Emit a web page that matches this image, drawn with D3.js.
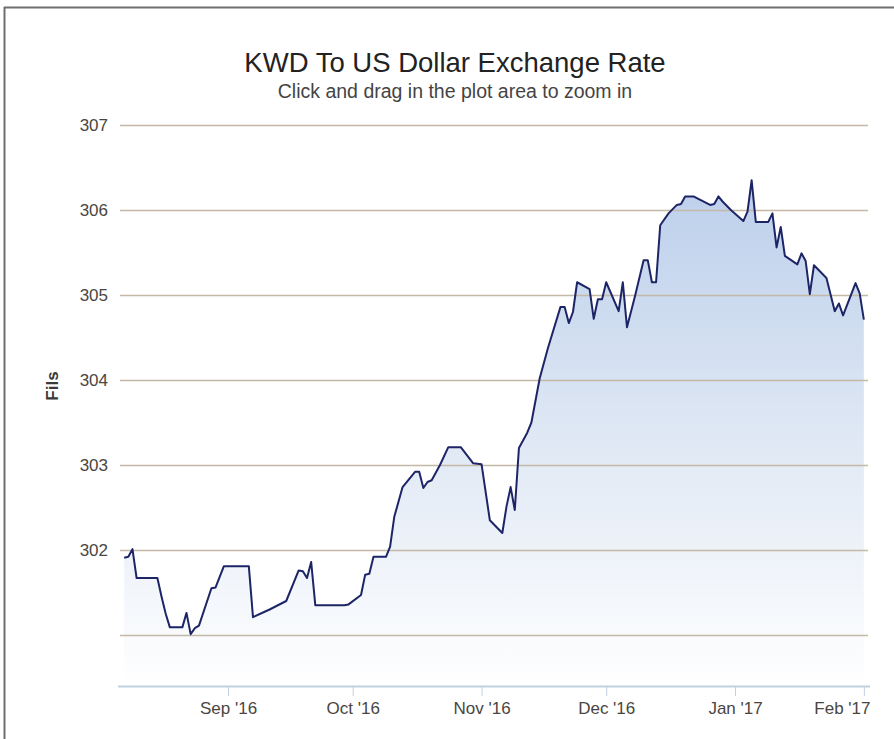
<!DOCTYPE html>
<html>
<head>
<meta charset="utf-8">
<script src="https://cdn.jsdelivr.net/npm/d3@7"></script>
<style>
  body { margin: 0; background: #fff; }
  svg { display: block; font-family: "Liberation Sans", Arial, sans-serif; }
</style>
</head>
<body>
<svg id="chart"></svg>
<script>
// KWD -> USD rate in fils
const dates = [
  "2016-08-07","2016-08-08","2016-08-09","2016-08-10","2016-08-12","2016-08-15","2016-08-16","2016-08-17",
  "2016-08-18","2016-08-21","2016-08-22","2016-08-23","2016-08-24","2016-08-25","2016-08-28","2016-08-29",
  "2016-08-31","2016-09-06","2016-09-07","2016-09-11","2016-09-15","2016-09-18","2016-09-19","2016-09-20",
  "2016-09-21","2016-09-22","2016-09-29","2016-09-30","2016-10-03","2016-10-04","2016-10-05","2016-10-06",
  "2016-10-09","2016-10-10","2016-10-11","2016-10-13","2016-10-16","2016-10-17","2016-10-18","2016-10-19",
  "2016-10-20","2016-10-22","2016-10-24","2016-10-27","2016-10-30","2016-11-01","2016-11-03","2016-11-06",
  "2016-11-07","2016-11-08","2016-11-09","2016-11-10","2016-11-12","2016-11-13","2016-11-15","2016-11-17",
  "2016-11-20","2016-11-21","2016-11-22","2016-11-23","2016-11-24","2016-11-27","2016-11-28","2016-11-29",
  "2016-11-30","2016-12-01","2016-12-04","2016-12-05","2016-12-06","2016-12-08","2016-12-10","2016-12-11",
  "2016-12-12","2016-12-13","2016-12-14","2016-12-16","2016-12-18","2016-12-19","2016-12-20","2016-12-22",
  "2016-12-24","2016-12-26","2016-12-27","2016-12-28","2016-12-29","2016-12-31","2017-01-03","2017-01-04",
  "2017-01-05","2017-01-06","2017-01-09","2017-01-10","2017-01-11","2017-01-12","2017-01-13","2017-01-16",
  "2017-01-17","2017-01-18","2017-01-19","2017-01-20","2017-01-23","2017-01-25","2017-01-26","2017-01-27",
  "2017-01-30","2017-01-31","2017-02-01"
];
const rates = [
  301.91,301.92,302.01,301.67,301.67,301.67,301.45,301.25,
  301.09,301.09,301.26,301.01,301.08,301.11,301.55,301.56,
  301.81,301.81,301.21,301.30,301.40,301.76,301.75,301.67,
  301.86,301.35,301.35,301.36,301.47,301.71,301.72,301.92,
  301.92,302.04,302.39,302.74,302.92,302.92,302.73,302.80,
  302.82,303.00,303.21,303.21,303.02,303.01,302.35,302.20,
  302.51,302.74,302.47,303.20,303.38,303.50,304.02,304.38,
  304.86,304.86,304.67,304.80,305.15,305.07,304.72,304.95,
  304.95,305.15,304.81,305.15,304.62,305.00,305.41,305.41,
  305.15,305.15,305.82,305.96,306.06,306.07,306.16,306.16,
  306.11,306.06,306.07,306.16,306.10,306.00,305.87,305.98,
  306.35,305.86,305.86,305.96,305.56,305.80,305.46,305.36,
  305.49,305.40,305.01,305.35,305.20,304.81,304.90,304.76,
  305.14,305.02,304.71
];
const xDomain = ["2016-08-06", "2017-02-02"];
const yDomain = [300.4, 307];
const gridValues = [301, 302, 303, 304, 305, 306, 307];
const yTickLabels = [302, 303, 304, 305, 306, 307];
const monthTicks = ["2016-09-01","2016-10-01","2016-11-01","2016-12-01","2017-01-01","2017-02-01"];

const title = "KWD To US Dollar Exchange Rate";
const subtitle = "Click and drag in the plot area to zoom in";
const yTitle = "Fils";

const width = 894;
const height = 739;
const margin = { top: 125, right: 26, bottom: 53, left: 120 };
const plotW = width - margin.left - margin.right;
const plotH = height - margin.top - margin.bottom;

const parse = d3.utcParse("%Y-%m-%d");
const data = dates.map((d, i) => ({ date: parse(d), value: rates[i] }));

const svg = d3.select('#chart')
  .attr('width', width)
  .attr('height', height);

// frame edges (only left + top are visible in the picture)
svg.append('line').attr('x1', 4.5).attr('x2', 4.5).attr('y1', 7).attr('y2', height)
  .attr('stroke', '#6e6e6e').attr('stroke-width', 2);
svg.append('line').attr('x1', 4).attr('x2', width).attr('y1', 7.5).attr('y2', 7.5)
  .attr('stroke', '#6e6e6e').attr('stroke-width', 2);

svg.append('text')
  .attr('x', 455).attr('y', 72)
  .attr('text-anchor', 'middle')
  .attr('font-size', 27.5)
  .attr('fill', '#222')
  .text(title);

svg.append('text')
  .attr('x', 455).attr('y', 98)
  .attr('text-anchor', 'middle')
  .attr('font-size', 19.5)
  .attr('fill', '#444')
  .text(subtitle);

const g = svg.append('g')
  .attr('transform', `translate(${margin.left},${margin.top})`);

const x = d3.scaleUtc().domain(xDomain.map(parse)).range([0, plotW]);
const y = d3.scaleLinear().domain(yDomain).range([plotH, 0]);

// gradient for the area
const defs = svg.append('defs');
const grad = defs.append('linearGradient')
  .attr('id', 'areaFill')
  .attr('gradientUnits', 'userSpaceOnUse')
  .attr('x1', 0).attr('x2', 0)
  .attr('y1', y(d3.max(rates))).attr('y2', plotH);
grad.append('stop').attr('offset', 0).attr('stop-color', '#bccfeb');
grad.append('stop').attr('offset', 0.45).attr('stop-color', '#dbe5f3');
grad.append('stop').attr('offset', 1).attr('stop-color', '#ffffff');

// area + line
const area = d3.area()
  .x((d) => x(d.date))
  .y0(plotH)
  .y1((d) => y(d.value));
const line = d3.line()
  .x((d) => x(d.date))
  .y((d) => y(d.value));

g.append('path').datum(data)
  .attr('d', area)
  .attr('fill', 'url(#areaFill)');

// grid lines sit over the fill
g.append('g').selectAll('line').data(gridValues).join('line')
  .attr('x1', 0).attr('x2', plotW)
  .attr('y1', (d) => Math.round(y(d)) + 0.5).attr('y2', (d) => Math.round(y(d)) + 0.5)
  .attr('stroke', '#c4b9a6').attr('stroke-width', 1.5);

g.append('path').datum(data)
  .attr('d', line)
  .attr('fill', 'none')
  .attr('stroke', '#1d2566')
  .attr('stroke-width', 2)
  .attr('stroke-linejoin', 'round');

// y labels
const yaxis = d3.axisLeft(y).tickValues(yTickLabels).tickSize(0).tickPadding(12)
  .tickFormat(d3.format('d'));
const g_yaxis = g.append('g').call(yaxis);
g_yaxis.select('.domain').remove();
g_yaxis.selectAll('text')
  .attr('font-size', 17)
  .attr('font-family', '"Liberation Sans", Arial, sans-serif')
  .attr('fill', '#4a463f');

svg.append('text')
  .attr('transform', `translate(58,386) rotate(-90)`)
  .attr('text-anchor', 'middle')
  .attr('font-size', 17)
  .attr('font-weight', 'bold')
  .attr('fill', '#3a3a3a')
  .text(yTitle);

// x axis
const xaxis = d3.axisBottom(x)
  .tickValues(monthTicks.map(parse))
  .tickSize(10)
  .tickPadding(6)
  .tickFormat(d3.utcFormat("%b '%y"));
const g_xaxis = g.append('g')
  .attr('transform', `translate(0,${plotH})`)
  .call(xaxis);
g_xaxis.select('.domain')
  .attr('d', `M-2,0.5H${plotW + 2}`)
  .attr('stroke', '#c0d0e0')
  .attr('stroke-width', 2);
g_xaxis.selectAll('.tick line').attr('stroke', '#c0d0e0');
g_xaxis.selectAll('text')
  .attr('font-size', 17)
  .attr('font-family', '"Liberation Sans", Arial, sans-serif')
  .attr('fill', '#4a463f');

// keep the last label inside the plot edge
g_xaxis.selectAll('.tick').each(function () {
  const txt = d3.select(this).select('text');
  const tx = x(d3.select(this).datum());
  const w = txt.node().getComputedTextLength();
  if (tx + w / 2 > plotW + 2) {
    txt.attr('text-anchor', 'end').attr('x', plotW + 2 - tx);
  }
});
</script>
</body>
</html>
